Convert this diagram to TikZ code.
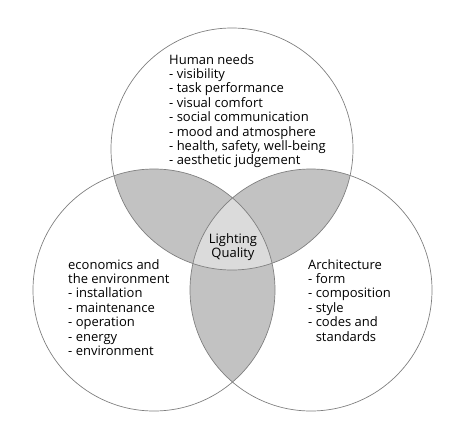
\documentclass[tikz,border=0pt]{standalone}
\usepackage{fontspec}
\setmainfont{Open Sans}
\usetikzlibrary{positioning}

\begin{document}
\begin{tikzpicture}[x=1pt,y=-1pt]

				\tikzstyle{every node}=[font=\fontsize{13}{14.4}\selectfont, inner sep=0pt]
				\tikzstyle{ring}=[draw=black!50, line width=0.7pt]
				\tikzstyle{overlap}=[fill=black!24]
				\tikzstyle{core}=[fill=black!14]

				\useasboundingbox (0,0) rectangle (465,444);

				\coordinate (human) at (232,149);
				\coordinate (economics) at (154,290);
				\coordinate (architecture) at (311,290);

				% two-circle overlaps
				\begin{scope}
					\clip (human) circle[radius=121pt];
					\fill[overlap] (economics) circle[radius=121pt];
					\fill[overlap] (architecture) circle[radius=121pt];
				\end{scope}
				\begin{scope}
					\clip (economics) circle[radius=121pt];
					\fill[overlap] (architecture) circle[radius=121pt];
				\end{scope}

				% all three
				\begin{scope}
					\clip (human) circle[radius=121pt];
					\clip (economics) circle[radius=121pt];
					\fill[core] (architecture) circle[radius=121pt];
				\end{scope}

				\draw[ring] (human) circle[radius=121pt];
				\draw[ring] (economics) circle[radius=121pt];
				\draw[ring] (architecture) circle[radius=121pt];

				\node[anchor=north west, align=left] (humanneeds) at (169,54) {Human needs\\- visibility\\- task performance\\- visual comfort\\- social communication\\- mood and atmosphere\\- health, safety, well-being\\- aesthetic judgement};
				\node[anchor=north west, align=left] (economicsenv) at (68,259) {economics and\\the environment\\- installation\\- maintenance\\- operation\\- energy\\- environment};
				\node[anchor=north west, align=left] (architecturelist) at (308,259) {Architecture\\- form\\- composition\\- style\\- codes and\\\phantom{- }standards};
				\node[align=center] (lightingquality) at (233,247) {Lighting\\Quality};

\end{tikzpicture}
\end{document}
